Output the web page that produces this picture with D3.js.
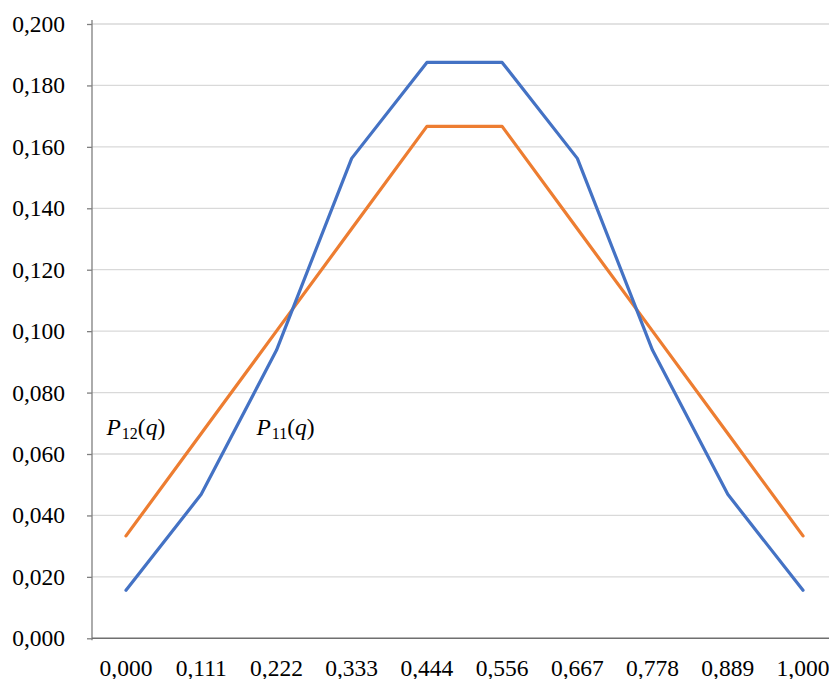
<!DOCTYPE html>
<html>
<head>
<meta charset="utf-8">
<script src="https://cdn.jsdelivr.net/npm/d3@7/dist/d3.min.js"></script>
<style>
  html, body { margin: 0; padding: 0; background: #fff; }
  svg { display: block; }
  text { font-family: "Liberation Serif", "Times New Roman", serif; fill: #000; }
</style>
</head>
<body>
<script>
// Category labels along the horizontal axis
const categories = ["0,000", "0,111", "0,222", "0,333", "0,444", "0,556", "0,667", "0,778", "0,889", "1,000"];
// P11(q) series
const p11 = [0.015625, 0.046875, 0.09375, 0.15625, 0.1875, 0.1875, 0.15625, 0.09375, 0.046875, 0.015625];
// P12(q) series
const p12 = [0.033333, 0.066667, 0.1, 0.133333, 0.166667, 0.166667, 0.133333, 0.1, 0.066667, 0.033333];
// Vertical axis ticks
const yTicks = [0, 0.02, 0.04, 0.06, 0.08, 0.1, 0.12, 0.14, 0.16, 0.18, 0.2];

const W = 829, H = 679;
const svg = d3.select("body").append("svg").attr("width", W).attr("height", H);

const axisX = 92;
const x = d3.scalePoint().domain(categories).range([126, 803]);
const y = d3.scaleLinear().domain([0, 0.2]).range([638.3, 24]);
const fmt = v => d3.format(".3f")(v).replace(".", ",");

// Horizontal gridlines
svg.append("g").selectAll("line").data(yTicks.filter(d => d > 0)).join("line")
  .attr("x1", axisX).attr("x2", W)
  .attr("y1", d => y(d)).attr("y2", d => y(d))
  .attr("stroke", "#d9d9d9").attr("stroke-width", 1.3);

// Vertical axis with outward ticks
const yAxis = d3.axisLeft(y).tickValues(yTicks).tickFormat(fmt).tickSize(5).tickPadding(22);
const gy = svg.append("g").attr("transform", `translate(${axisX},0)`).call(yAxis);
gy.select(".domain").attr("d", `M0,${y(0.2) - 4}V${y(0) + 2}`).attr("stroke", "#7f7f7f").attr("stroke-width", 1.3);
gy.selectAll(".tick line").attr("stroke", "#7f7f7f").attr("stroke-width", 1.3);
gy.selectAll(".tick text").attr("font-size", 23.5).attr("font-family", "Liberation Serif").attr("fill", "#000");

// Horizontal axis line and category labels
svg.append("line").attr("x1", axisX).attr("x2", W)
  .attr("y1", y(0)).attr("y2", y(0))
  .attr("stroke", "#6f6f6f").attr("stroke-width", 1.6);
svg.append("g").selectAll("text").data(categories).join("text")
  .attr("x", d => x(d)).attr("y", 675.5)
  .attr("text-anchor", "middle").attr("font-size", 23.5)
  .text(d => d);

// Series lines
const line = vals => d3.line().x((d, i) => x(categories[i])).y(d => y(d))(vals);
svg.append("path").attr("d", line(p12)).attr("fill", "none")
  .attr("stroke", "#ED7D31").attr("stroke-width", 3.2).attr("stroke-linejoin", "round").attr("stroke-linecap", "round");
svg.append("path").attr("d", line(p11)).attr("fill", "none")
  .attr("stroke", "#4472C4").attr("stroke-width", 3.2).attr("stroke-linejoin", "round").attr("stroke-linecap", "round");

// Series annotations
function seriesLabel(px, py, sub) {
  const t = svg.append("text").attr("x", px).attr("y", py).attr("font-size", 23.5);
  t.append("tspan").attr("font-style", "italic").text("P");
  t.append("tspan").attr("font-size", 16).attr("dy", 4).attr("dx", 1).text(sub);
  t.append("tspan").attr("dy", -4).text("(");
  t.append("tspan").attr("font-style", "italic").text("q");
  t.append("tspan").text(")");
}
seriesLabel(106.5, 435, "12");
seriesLabel(256.5, 435, "11");
</script>
</body>
</html>
